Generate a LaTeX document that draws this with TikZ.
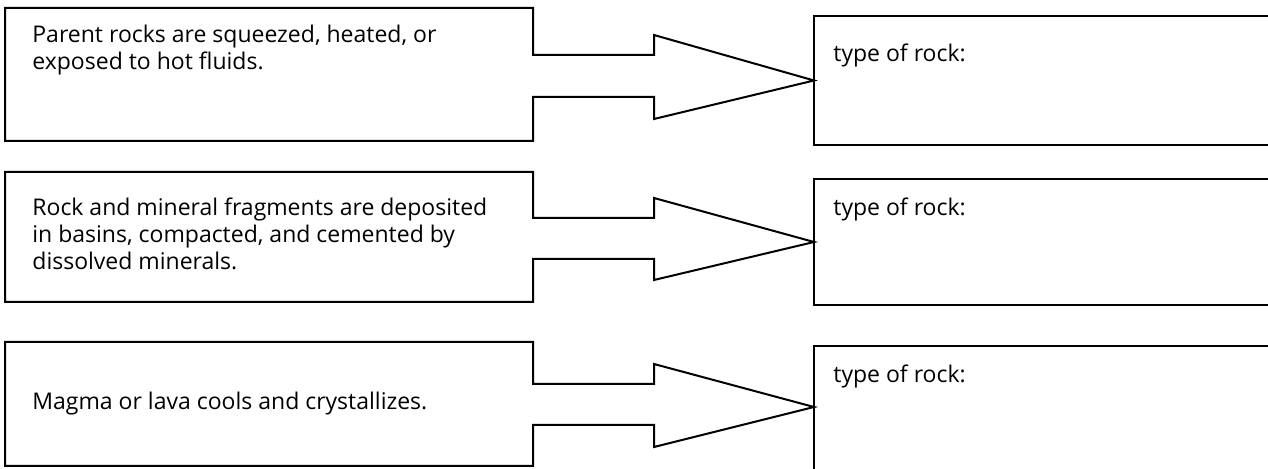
\documentclass[tikz,border=0pt]{standalone}
\usepackage{fontspec}
\setmainfont{Open Sans}
\begin{document}
\begin{tikzpicture}[x=0.5pt,y=-0.5pt,
  line/.style={line width=1pt, line join=miter},
  geom/.style={rectangle, draw=none, inner sep=0pt, outer sep=0pt, anchor=north west},
  rbox/.style={rectangle, draw, line width=1pt, inner sep=0pt, outer sep=0pt, anchor=north west, minimum width=300pt},
  txt/.style={anchor=base west, inner sep=0pt, align=left, font=\fontsize{11.5}{13.6}\selectfont},
]
\useasboundingbox (0,0) rectangle (1268,469);
\clip (0,0) rectangle (1268,469);

% left boxes (geometry)
\node[geom, minimum width=264pt, minimum height=66.5pt] (p1) at (5,8) {};
\node[geom, minimum width=264pt, minimum height=65pt] (p2) at (5,172) {};
\node[geom, minimum width=264pt, minimum height=62pt] (p3) at (5,342) {};

% right boxes
\node[rbox, minimum height=64.5pt] (t1) at (814,16) {};
\node[rbox, minimum height=63pt] (t2) at (814,179) {};
\node[rbox, minimum height=80pt] (t3) at (814,346) {};

% left box outlines merged with arrows
\draw[line] (p1.north east) -- (p1.north west) -- (p1.south west) -- (p1.south east)
  -- (533,97) -- (654,97) -- (654,119) -- (t1.west) -- (654,35) -- (654,55) -- (533,55) -- cycle;
\draw[line] (p2.north east) -- (p2.north west) -- (p2.south west) -- (p2.south east)
  -- (533,259) -- (654,259) -- (654,280) -- (t2.west) -- (654,198) -- (654,218) -- (533,218) -- cycle;
\coordinate (tip3) at (814,407);
\draw[line] (p3.north east) -- (p3.north west) -- (p3.south west) -- (p3.south east)
  -- (533,425) -- (654,425) -- (654,447) -- (tip3) -- (654,364) -- (654,384) -- (533,384) -- cycle;

% texts (anchor = baseline of last line)
\node[txt] (l1) at (32,70) {Parent rocks are squeezed, heated, or\\exposed to hot fluids.};
\node[txt] (l2) at (32,270) {Rock and mineral fragments are deposited\\in basins, compacted, and cemented by\\dissolved minerals.};
\node[txt] (l3) at (32,410) {Magma or lava cools and crystallizes.};

\node[txt] (r1) at (833,62) {type of rock:};
\node[txt] (r2) at (833,216) {type of rock:};
\node[txt] (r3) at (833,383) {type of rock:};
\end{tikzpicture}
\end{document}
